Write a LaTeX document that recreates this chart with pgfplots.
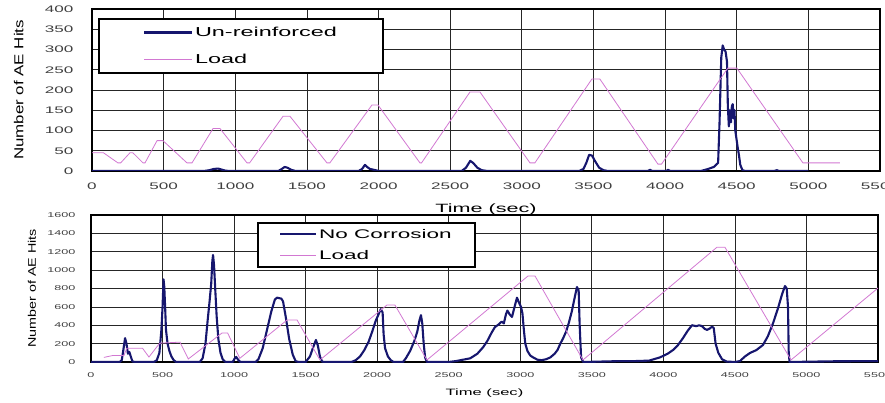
\documentclass[border=0pt]{standalone}
\usepackage{fontspec}
\setmainfont{Liberation Sans}
\newfontfamily\widefont[FakeStretch=1.8]{Liberation Sans}
\newfontfamily\midfont[FakeStretch=1.3]{Liberation Sans}
\usepackage{pgfplots}
\pgfplotsset{compat=1.18}
\definecolor{aeblue}{RGB}{22,22,110}
\definecolor{loadpink}{RGB}{210,120,210}
\pgfplotsset{
  panel/.style={
    scale only axis,
    xmin=0, xmax=5500,
    xtick={0,500,...,5500},
    grid=major,
    major grid style={black!85, line width=0.7pt},
    axis line style={line width=2pt},
    major tick length=0pt,
    tick label style={color=black!75},
    /pgf/number format/assume math mode=true,
    /pgf/number format/set thousands separator={},
    xticklabel={\widefont\pgfmathprintnumber{\tick}},
    yticklabel={\widefont\pgfmathprintnumber{\tick}},
    legend cell align=left,
  },
  aeline/.style={aeblue, line width=2.1pt, line join=round},
  loadline/.style={loadpink, line width=0.8pt},
}
\begin{document}
\begin{tikzpicture}
\useasboundingbox (0,0) rectangle (885pt,-403pt);
% ---------------- top panel ----------------
\begin{axis}[panel,
  at={(92pt,-171pt)}, anchor=south west,
  width=788pt, height=162pt,
  ymin=0, ymax=400, ytick={0,50,...,400},
  tick label style={font=\widefont\fontsize{9.5}{9.5}\selectfont},
  yticklabel shift=15pt,
  xticklabel shift=8pt,
  xlabel={Time (sec)},
  ylabel={Number of AE Hits},
  xlabel style={font=\widefont\fontsize{12}{12}\selectfont, at={(axis description cs:0.5,-0.235)}, anchor=center},
  ylabel style={font=\midfont\fontsize{13}{13}\selectfont, at={(axis description cs:-0.093,0.5)}, anchor=center},
  legend image code/.code={\draw[#1] (0pt,0pt) -- (48pt,0pt);},
  legend style={at={(rel axis cs:0.0076,0.944)}, anchor=north west,
    draw=black, line width=2pt, inner xsep=44pt, inner ysep=6pt,
    row sep=12pt, font=\widefont\fontsize{13}{13}\selectfont},
]
\addplot[aeline] coordinates {
(0,0) (780,0) (820,2) (850,5) (880,6) (900,4) (930,1) (960,0) (1300,0) (1320,4) (1345,10) (1365,8) (1390,3) (1420,0)
(1860,0) (1885,5) (1905,15) (1920,10) (1940,5) (1980,2) (2000,0) (2580,0) (2610,8) (2640,25) (2660,20) (2690,8) (2720,2) (2760,0)
(3400,0) (3430,5) (3450,20) (3470,40) (3490,38) (3510,25) (3540,8) (3570,2) (3600,0) (3880,0) (3895,3) (3910,0) (4010,0) (4020,3) (4035,0)
(4250,0) (4300,5) (4340,10) (4370,20) (4380,120) (4392,280) (4402,310) (4412,300) (4422,295) (4432,270) (4438,160) (4445,110) (4452,150) (4460,120) (4466,160) (4472,165) (4478,130) (4484,150) (4490,100) (4498,80) (4506,60) (4515,40) (4525,15) (4540,2) (4560,0)
(4760,0) (4780,2) (4795,0) (5000,0)
};
\addplot[loadline] coordinates {
(0,45) (80,45) (181,20) (200,20) (265,45) (285,45) (356,20) (370,20) (454,75) (495,75) (663,20) (698,20) (845,105) (893,105)
(1082,20) (1100,20) (1333,135) (1382,135) (1640,20) (1660,20) (1954,163) (1996,163) (2289,20) (2300,20) (2638,195) (2708,195)
(3057,20) (3091,20) (3489,227) (3545,227) (3950,17) (3975,17) (4438,254) (4501,254) (4962,20) (4990,20) (5220,20)
};
\legend{Un-reinforced, Load}
\end{axis}
% ---------------- bottom panel ----------------
\begin{axis}[panel,
  at={(91pt,-362pt)}, anchor=south west,
  width=787pt, height=147pt,
  ymin=0, ymax=1600, ytick={0,200,...,1600},
  tick label style={font=\widefont\fontsize{7}{7}\selectfont},
  yticklabel shift=12pt,
  xticklabel shift=7pt,
  xlabel={Time (sec)},
  ylabel={Number of AE Hits},
  xlabel style={font=\widefont\fontsize{9.2}{9.2}\selectfont, at={(axis description cs:0.5,-0.211)}, anchor=center},
  ylabel style={font=\midfont\fontsize{11}{11}\selectfont, at={(axis description cs:-0.075,0.5)}, anchor=center},
  legend image code/.code={\draw[#1] (0pt,0pt) -- (36pt,0pt);},
  legend style={at={(rel axis cs:0.211,0.952)}, anchor=north west,
    draw=black, line width=2pt, inner xsep=21pt, inner ysep=4pt,
    row sep=7pt, font=\widefont\fontsize{12.5}{12.5}\selectfont},
]
\addplot[aeline] coordinates {
(0,0) (200,0) (215,20) (225,120) (238,260) (248,200) (258,90) (268,110) (278,60) (290,5) (310,0)
(440,0) (460,20) (478,100) (492,350) (500,600) (507,900) (512,820) (518,600) (524,350) (535,200) (548,120) (562,60) (578,20) (595,0)
(760,0) (780,40) (800,200) (815,450) (828,650) (840,850) (848,1100) (853,1165) (860,1050) (868,800) (878,500) (890,250) (905,100) (920,30) (940,0)
(990,0) (1005,40) (1015,55) (1030,20) (1045,0) (1150,0) (1170,30) (1200,150) (1230,350) (1260,550) (1285,680) (1300,700) (1330,690) (1342,660) (1360,500) (1385,250) (1410,80) (1430,10) (1450,0)
(1500,0) (1530,60) (1555,170) (1572,240) (1585,180) (1600,60) (1615,5) (1630,0)
(1820,0) (1850,20) (1880,60) (1910,130) (1940,220) (1965,330) (1990,450) (2010,520) (2025,575) (2038,540) (2045,300) (2055,150) (2075,60) (2095,20) (2115,0)
(2180,0) (2200,40) (2230,120) (2260,230) (2280,330) (2295,450) (2306,510) (2315,420) (2325,200) (2335,50) (2348,0)
(2500,0) (2550,10) (2600,25) (2650,40) (2700,90) (2740,160) (2770,230) (2800,320) (2823,380) (2850,410) (2870,440) (2885,420) (2900,520) (2910,560) (2925,520) (2942,490) (2960,600) (2977,700) (2990,650) (3005,600) (3015,530) (3025,350) (3035,200) (3050,120) (3070,70) (3090,50) (3120,25) (3150,20) (3180,30)
(3210,50) (3240,90) (3260,130) (3280,200) (3300,260) (3320,330) (3340,430) (3360,550) (3380,700) (3396,816) (3408,780) (3415,400) (3425,50) (3440,0)
(3700,10) (3800,10) (3900,15) (3976,50) (4030,90) (4067,130) (4100,180) (4137,260) (4170,340) (4200,400) (4230,390) (4250,400) (4270,390) (4290,360) (4305,350) (4325,365) (4340,385) (4352,370) (4365,200) (4384,100) (4410,30) (4442,5) (4500,0)
(4535,10) (4570,60) (4605,98) (4650,130) (4696,185) (4730,280) (4766,420) (4800,580) (4830,740) (4850,827) (4862,800) (4871,600) (4876,100) (4882,0) (5200,8) (5500,10)
};
\addplot[loadline] coordinates {
(90,50) (150,70) (230,70) (250,150) (360,150) (405,54) (480,205) (622,216) (680,33) (915,315) (955,315) (1040,40)
(1370,457) (1440,457) (1600,22) (2068,620) (2124,620) (2348,22) (3054,936) (3103,936) (3438,22) (4375,1250) (4430,1250) (4892,22) (5500,805)
};
\legend{No Corrosion, Load}
\end{axis}
\end{tikzpicture}
\end{document}
